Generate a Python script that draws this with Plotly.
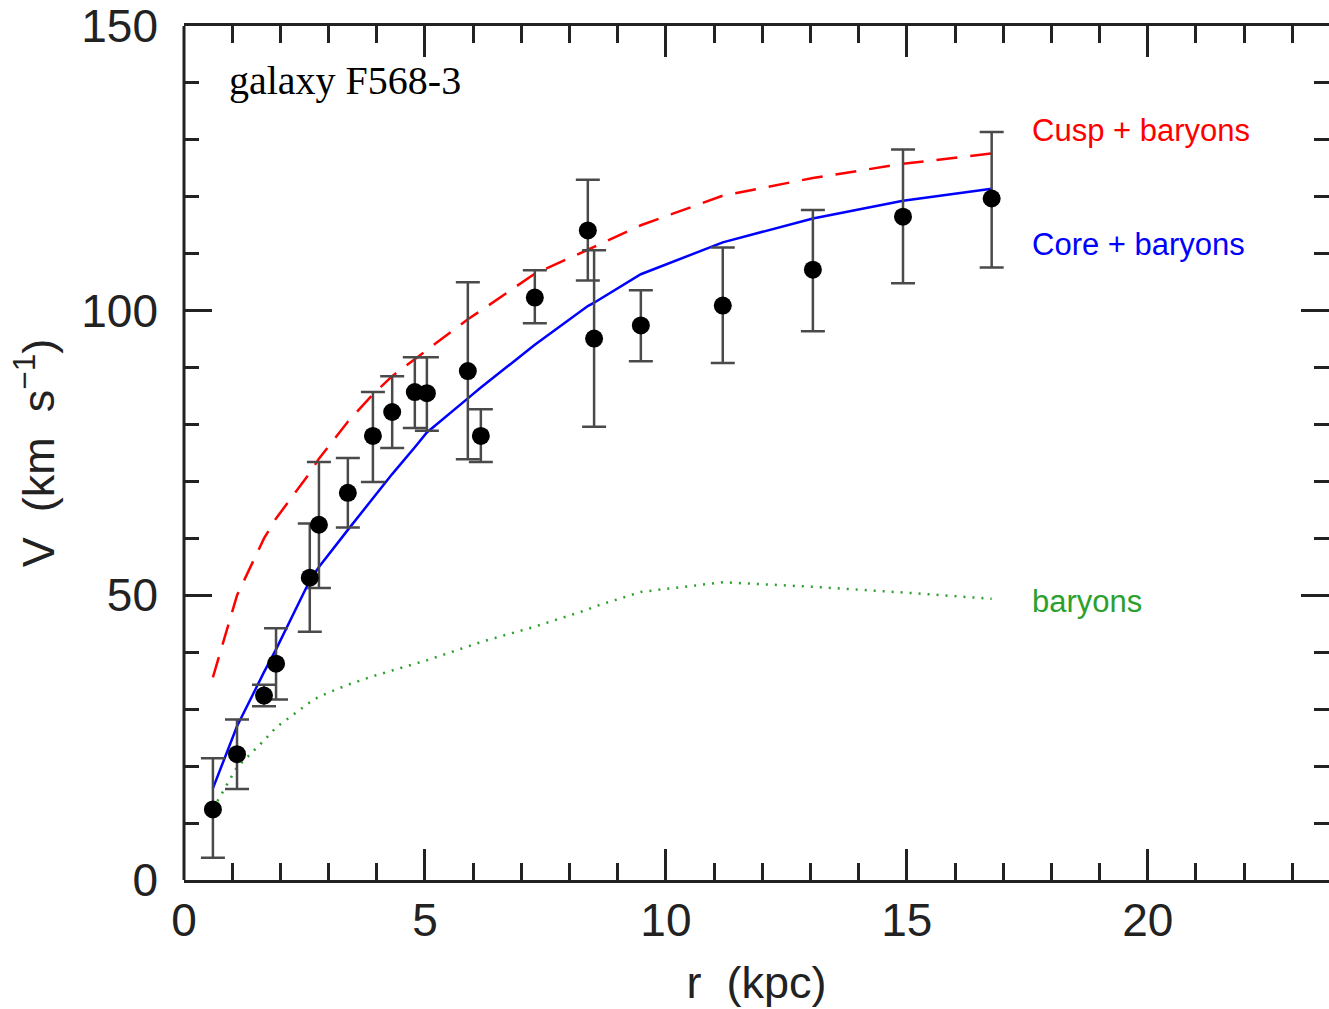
import plotly.graph_objects as go

# Rotation curve of F568-3: observed points with asymmetric errors
r_obs = [0.60, 1.10, 1.66, 1.91, 2.61, 2.80, 3.40, 3.92, 4.32, 4.79, 5.04,
         5.89, 6.16, 7.28, 8.38, 8.51, 9.48, 11.18, 13.05, 14.92, 16.76]
v_obs = [12.4, 22.1, 32.4, 38.0, 53.1, 62.4, 68.0, 78.0, 82.2, 85.7, 85.5,
         89.4, 78.0, 102.3, 114.1, 95.1, 97.4, 100.9, 107.2, 116.5, 119.7]
v_err_up = [9.0, 6.1, 1.9, 6.2, 9.5, 11.0, 6.1, 7.7, 6.3, 6.1, 6.3,
            15.6, 4.7, 4.8, 8.9, 15.5, 6.2, 10.2, 10.5, 11.8, 11.7]
v_err_dn = [8.5, 6.1, 1.9, 6.3, 9.5, 11.1, 6.1, 8.1, 6.3, 6.3, 6.6,
            15.5, 4.6, 4.5, 8.8, 15.5, 6.3, 10.1, 10.8, 11.7, 12.1]

# Model curves evaluated at the observed radii
v_cusp = [35.6, 50.0, 60.0, 63.5, 71.5, 74.0, 80.5, 85.3, 88.5, 91.5, 93.0,
          98.5, 100.0, 106.5, 110.7, 111.2, 115.0, 120.2, 123.3, 125.8, 127.6]
v_core = [16.1, 27.0, 36.5, 40.5, 52.6, 55.0, 61.5, 67.1, 71.3, 76.0, 78.6,
          84.6, 86.5, 94.0, 100.8, 101.4, 106.4, 112.0, 116.2, 119.3, 121.4]
v_bary = [12.5, 19.8, 24.5, 26.8, 31.2, 32.2, 34.3, 35.8, 36.8, 38.0, 38.6,
          41.0, 41.8, 44.5, 47.5, 48.0, 50.6, 52.3, 51.5, 50.5, 49.4]

x_ticks = [0, 5, 10, 15, 20]
y_ticks = [0, 50, 100, 150]

FONT = "Liberation Sans"
TEXT = "#222222"

fig = go.Figure()

fig.add_trace(go.Scatter(x=r_obs, y=v_bary, mode="lines",
                         line=dict(color="#2ca02c", width=2.5, dash="2px,7px"),
                         hoverinfo="skip"))
fig.add_trace(go.Scatter(x=r_obs, y=v_cusp, mode="lines",
                         line=dict(color="#ff0000", width=2.5, dash="21px,13px"),
                         hoverinfo="skip"))
fig.add_trace(go.Scatter(x=r_obs, y=v_core, mode="lines",
                         line=dict(color="#0000ff", width=2.5),
                         hoverinfo="skip"))
fig.add_trace(go.Scatter(
    x=r_obs, y=v_obs, mode="markers",
    marker=dict(color="black", size=18),
    error_y=dict(type="data", symmetric=False, array=v_err_up,
                 arrayminus=v_err_dn, color="#4a4a4a", thickness=2.5, width=12),
))

labels = [
    ("Cusp + baryons", 131.6, "#ff0000"),
    ("Core + baryons", 111.6, "#0000ff"),
    ("baryons", 48.9, "#2ca02c"),
]
for txt, yv, col in labels:
    fig.add_annotation(x=17.55, y=yv, text=txt, showarrow=False,
                       xanchor="left", yanchor="middle",
                       font=dict(family=FONT, size=31, color=col))

fig.add_annotation(x=0.89, y=140.5, text="galaxy F568-3", showarrow=False,
                   xanchor="left", yanchor="middle",
                   font=dict(family="Liberation Serif", size=40, color="black"))

# Left frame edge (y axis line itself is hidden so no right edge is drawn)
fig.add_shape(type="line", xref="paper", yref="paper", x0=0, x1=0, y0=0, y1=1,
              line=dict(color="#222222", width=3))

axis_common = dict(
    ticks="inside", tickcolor="#222222", tickwidth=2.5,
    tickfont=dict(family=FONT, size=46, color=TEXT),
    showgrid=False, zeroline=False, mirror="allticks",
    ticklabeloverflow="allow",
)

fig.update_xaxes(
    range=[0, 23.76], tickvals=x_ticks, ticklen=31,
    showline=True, linecolor="#222222", linewidth=3,
    minor=dict(ticks="inside", dtick=1, ticklen=17, tickwidth=2.5, tickcolor="#222222"),
    ticklabelstandoff=-2,
    title=dict(text="r  (kpc)", font=dict(family=FONT, size=45, color=TEXT), standoff=22),
    **axis_common,
)
fig.update_yaxes(
    range=[0, 150], tickvals=y_ticks, ticklen=28,
    showline=False,
    minor=dict(ticks="inside", dtick=10, ticklen=15, tickwidth=2.5, tickcolor="#222222"),
    ticklabelstandoff=25,
    title=dict(text="V  (km  s<sup>−1</sup>)", font=dict(family=FONT, size=45, color=TEXT), standoff=12),
    **axis_common,
)

fig.update_layout(
    width=1329, height=1009,
    margin=dict(l=184, r=0, t=24, b=129),
    paper_bgcolor="white", plot_bgcolor="white",
    showlegend=False,
)

fig.write_html("out.html")
